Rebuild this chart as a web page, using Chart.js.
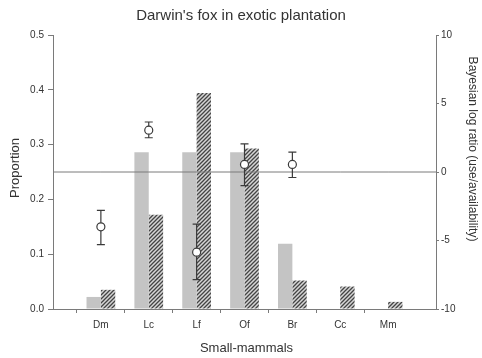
<!DOCTYPE html>
<html>
<head>
<meta charset="utf-8">
<script src="https://cdn.jsdelivr.net/npm/chart.js@4.4.1/dist/chart.umd.min.js"></script>
<style>
  html, body { margin: 0; padding: 0; background: #ffffff; }
  #wrap { width: 482px; height: 358px; }
</style>
</head>
<body>
<div id="wrap"><canvas id="c" width="482" height="358"></canvas></div>
<script>
// ---- data ----
const categories = ['', 'Dm', 'Lc', 'Lf', 'Of', 'Br', 'Cc', 'Mm', ''];
const availability = [null, 0.022, 0.286, 0.286, 0.286, 0.119, 0, 0, null];
const use = [null, 0.035, 0.172, 0.394, 0.293, 0.052, 0.041, 0.013, null];
const ratioMean = [null, -4.0, 3.05, -5.85, 0.55, 0.55, null, null, null];
const ratioLower = [null, -5.3, 2.5, -7.85, -1.0, -0.4, null, null, null];
const ratioUpper = [null, -2.8, 3.65, -3.8, 2.05, 1.45, null, null, null];
const referenceLine = [0, 0, 0, 0, 0, 0, 0, 0, 0];
const leftTicks = [0, 0.1, 0.2, 0.3, 0.4, 0.5];
const rightTicks = [-10, -5, 0, 5, 10];

const titleText = "Darwin's fox in exotic plantation";
const xTitle = 'Small-mammals';
const yTitle = 'Proportion';
const y2Title = 'Bayesian log ratio (use/availability)';

const FONT = 'Arial, "Liberation Sans", sans-serif';
const AXIS = '#7a7a7a';
const TEXT = '#333333';

// hatch pattern for the "use" bars
function makeHatch() {
  const p = document.createElement('canvas');
  p.width = 4; p.height = 4;
  const g = p.getContext('2d');
  g.fillStyle = '#d6d6d6';
  g.fillRect(0, 0, 4, 4);
  g.strokeStyle = '#444444';
  g.lineWidth = 1.3;
  g.beginPath();
  g.moveTo(0, 4); g.lineTo(4, 0);
  g.moveTo(-1, 1); g.lineTo(1, -1);
  g.moveTo(3, 5); g.lineTo(5, 3);
  g.stroke();
  return g.createPattern(p, 'repeat');
}
const ctx = document.getElementById('c').getContext('2d');
const hatch = makeHatch();

const errorBars = {
  id: 'errorBars',
  beforeDatasetDraw(chart, args) {
    if (args.index !== 3) return;
    const x = chart.scales.x, y2 = chart.scales.y2, c = chart.ctx;
    c.save();
    c.strokeStyle = '#3a3a3a';
    c.lineWidth = 1.2;
    for (let i = 0; i < categories.length; i++) {
      if (ratioMean[i] == null) continue;
      const px = x.getPixelForValue(i);
      const lo = y2.getPixelForValue(ratioLower[i]);
      const hi = y2.getPixelForValue(ratioUpper[i]);
      c.beginPath();
      c.moveTo(px, lo); c.lineTo(px, hi);
      c.moveTo(px - 4, lo); c.lineTo(px + 4, lo);
      c.moveTo(px - 4, hi); c.lineTo(px + 4, hi);
      c.stroke();
    }
    c.restore();
  }
};

const axisTitles = {
  id: 'axisTitles',
  afterDraw(chart) {
    const a = chart.chartArea, c = chart.ctx;
    c.save();
    c.fillStyle = TEXT;
    c.textAlign = 'center';
    c.textBaseline = 'middle';
    c.font = '13px ' + FONT;
    c.fillText(xTitle, (a.left + a.right) / 2 + 2, 348);
    c.save();
    c.translate(15, 168);
    c.rotate(-Math.PI / 2);
    c.fillText(yTitle, 0, 0);
    c.restore();
    c.save();
    c.font = '12px ' + FONT;
    c.translate(472, 149);
    c.rotate(Math.PI / 2);
    c.fillText(y2Title, 0, 0);
    c.restore();
    c.restore();
  }
};

new Chart(ctx, {
  type: 'bar',
  data: {
    labels: categories,
    datasets: [
      { label: 'Availability', data: availability, backgroundColor: '#c4c4c4', yAxisID: 'y', order: 3,
        barPercentage: 1.0, categoryPercentage: 0.6 },
      { label: 'Use', data: use, backgroundColor: hatch, yAxisID: 'y', order: 3,
        barPercentage: 1.0, categoryPercentage: 0.6 },
      { type: 'line', label: 'Zero', data: referenceLine, yAxisID: 'y2', borderColor: AXIS,
        borderWidth: 1, pointRadius: 0, fill: false, order: 2 },
      { type: 'line', label: 'Log ratio', data: ratioMean, yAxisID: 'y2', showLine: false,
        pointRadius: 4, pointBackgroundColor: '#ffffff', pointBorderColor: '#3a3a3a',
        pointBorderWidth: 1.2, order: 1 }
    ]
  },
  options: {
    responsive: false,
    animation: false,
    layout: { padding: 0 },
    plugins: {
      legend: { display: false },
      tooltip: { enabled: false },
      title: {
        display: true, text: titleText, color: TEXT,
        font: { family: FONT, size: 15, weight: 'normal' },
        padding: { top: 7, bottom: 10 }
      }
    },
    scales: {
      x: {
        type: 'category',
        offset: false,
        grid: {
          display: true, drawOnChartArea: false, drawTicks: true, tickLength: 4,
          color: (c) => (c.index === 0 || c.index === categories.length - 1) ? 'rgba(0,0,0,0)' : AXIS
        },
        border: { color: AXIS, width: 1 },
        ticks: { color: TEXT, font: { family: FONT, size: 10 }, padding: 6, autoSkip: false, maxRotation: 0 },
        afterFit(s) { s.height = 49; }
      },
      y: {
        position: 'left',
        min: 0, max: 0.5,
        afterBuildTicks(s) { s.ticks = leftTicks.map(v => ({ value: v })); },
        grid: { display: true, drawOnChartArea: false, drawTicks: true, tickLength: 5, color: AXIS },
        border: { color: AXIS, width: 1 },
        ticks: { color: TEXT, font: { family: FONT, size: 10 }, padding: 4, callback: (v) => Number(v).toFixed(1) },
        afterFit(s) { s.width = 53; }
      },
      y2: {
        position: 'right',
        min: -10, max: 10,
        afterBuildTicks(s) { s.ticks = rightTicks.map(v => ({ value: v })); },
        grid: { display: true, drawOnChartArea: false, drawTicks: true, tickLength: 3, color: AXIS },
        border: { color: AXIS, width: 1 },
        ticks: { color: TEXT, font: { family: FONT, size: 10 }, padding: 2 },
        afterFit(s) { s.width = 46; }
      }
    }
  },
  plugins: [errorBars, axisTitles]
});
</script>
</body>
</html>
